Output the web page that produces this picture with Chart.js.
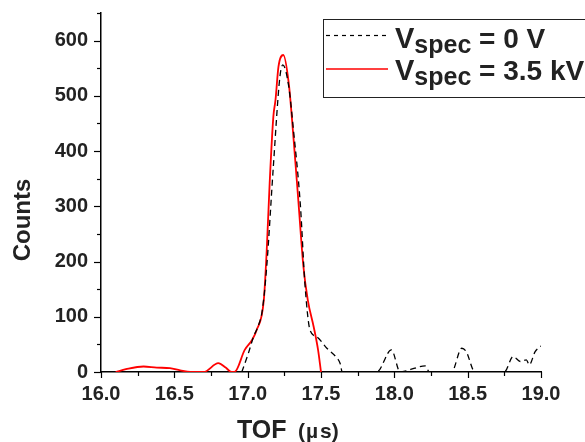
<!DOCTYPE html>
<html>
<head>
<meta charset="utf-8">
<script src="https://cdn.jsdelivr.net/npm/chart.js@4.4.1/dist/chart.umd.min.js"></script>
<style>
  body { margin: 0; background: #fff; }
  canvas { display: block; }
</style>
</head>
<body>
<canvas id="tof-chart" width="585" height="442"></canvas>
<script>
// TOF spectra
const tof0V = [16.96, 17.005, 17.04, 17.07, 17.10, 17.13, 17.175, 17.22, 17.24, 17.28, 17.31, 17.36, 17.39, 17.425, 17.47, 17.54, 17.60, 17.63, 17.645,
               17.88, 17.98, 18.04, 18.08, 18.14, 18.21, 18.24, 18.39, 18.46, 18.49, 18.55, 18.75, 18.81, 18.86, 18.90, 18.92, 18.96, 19.0];
const counts0V = [0, 34, 64, 82, 112, 191, 372, 535, 556, 517, 444, 300, 161, 76, 64, 43, 28, 16, 0,
                  0, 40, 0, 2, 7, 11, 0, 0, 43, 37, 0, 0, 28, 19, 22, 13, 37, 47];

const tof35kV = [16.10, 16.17, 16.29, 16.38, 16.47, 16.54, 16.61, 16.70, 16.80, 16.85, 16.89, 16.91, 16.98, 17.03, 17.06, 17.11, 17.13, 17.15, 17.175,
                 17.19, 17.21, 17.243, 17.28, 17.31, 17.345, 17.38, 17.41, 17.45, 17.48, 17.50];
const counts35kV = [0, 5, 10, 8, 7, 3, 0, 0, 16, 8, 0, 0, 40, 58, 75, 130, 221, 342, 462,
                    493, 553, 574, 523, 432, 312, 191, 130, 82, 40, 0];

const xTicks = [16.0, 16.5, 17.0, 17.5, 18.0, 18.5, 19.0];
const yTicks = [0, 100, 200, 300, 400, 500, 600];

const FONT = "'Liberation Sans', Arial, sans-serif";
const TEXT = "#222";

function toPoints(xs, ys) {
    return xs.map((x, i) => ({ x: x, y: ys[i] }));
}

// minor/major tick marks, axis titles and the legend box
const decorations = {
    id: "decorations",
    afterDraw(chart) {
        const c = chart.ctx;
        const xs = chart.scales.x;
        const ys = chart.scales.y;
        const area = chart.chartArea;

        c.save();
        c.strokeStyle = "#000";
        c.lineWidth = 1.2;
        for (let v = 0; v <= 650; v += 50) {
            const y = Math.round(ys.getPixelForValue(v)) + 0.5;
            const len = v % 100 === 0 ? 7 : 4;
            c.beginPath();
            c.moveTo(area.left - len, y);
            c.lineTo(area.left, y);
            c.stroke();
        }
        for (let v = 16; v <= 19.001; v += 0.25) {
            const x = Math.round(xs.getPixelForValue(v)) + 0.5;
            const len = Math.abs(v * 2 - Math.round(v * 2)) < 0.01 ? 6 : 4;
            c.beginPath();
            c.moveTo(x, area.bottom);
            c.lineTo(x, area.bottom + len);
            c.stroke();
        }

        // axis titles
        c.fillStyle = TEXT;
        c.textBaseline = "alphabetic";
        c.textAlign = "left";
        c.font = "bold 25px " + FONT;
        c.fillText("TOF", 237, 438);
        c.font = "bold 21px " + FONT;
        c.fillText("(", 298, 438);
        c.fillText("\u00b5", 306, 438);
        c.fillText("s)", 320, 438);

        c.save();
        c.translate(23, 220);
        c.rotate(-Math.PI / 2);
        c.textAlign = "center";
        c.textBaseline = "middle";
        c.font = "bold 24px " + FONT;
        c.fillText("Counts", 0, 0);
        c.restore();

        // legend
        c.fillStyle = "#fff";
        c.fillRect(323, 19, 270, 78);
        c.strokeStyle = "#222";
        c.lineWidth = 1;
        c.strokeRect(323.5, 19.5, 270, 78);

        c.strokeStyle = "#000";
        c.lineWidth = 1.2;
        c.setLineDash([4, 4]);
        c.beginPath();
        c.moveTo(326, 35.5);
        c.lineTo(388, 35.5);
        c.stroke();
        c.setLineDash([]);
        c.strokeStyle = "#ff0000";
        c.lineWidth = 1.6;
        c.beginPath();
        c.moveTo(326, 69);
        c.lineTo(388, 69);
        c.stroke();

        const labels = [" = 0 V", " = 3.5 kV"];
        const baselines = [48, 80];
        c.fillStyle = TEXT;
        labels.forEach((txt, i) => {
            let x = 395;
            c.font = "bold 29px " + FONT;
            c.fillText("V", x, baselines[i]);
            x += c.measureText("V").width;
            c.font = "bold 25px " + FONT;
            c.fillText("spec", x, baselines[i] + 5);
            x += c.measureText("spec").width;
            c.font = "bold 28px " + FONT;
            c.fillText(txt, x, baselines[i]);
        });
        c.restore();
    }
};

new Chart(document.getElementById("tof-chart"), {
    type: "line",
    data: {
        datasets: [
            {
                label: "Vspec = 0 V",
                data: toPoints(tof0V, counts0V),
                borderColor: "#000",
                borderWidth: 1.3,
                borderDash: [6, 4],
                pointRadius: 0,
                cubicInterpolationMode: "monotone",
                fill: false
            },
            {
                label: "Vspec = 3.5 kV",
                data: toPoints(tof35kV, counts35kV),
                borderColor: "#ff0000",
                borderWidth: 1.8,
                pointRadius: 0,
                cubicInterpolationMode: "monotone",
                fill: false
            }
        ]
    },
    options: {
        responsive: false,
        animation: false,
        devicePixelRatio: 1,
        layout: { padding: { top: 13, right: 44, left: 0, bottom: 0 } },
        plugins: {
            legend: { display: false },
            tooltip: { enabled: false }
        },
        scales: {
            x: {
                type: "linear",
                min: 16,
                max: 19,
                afterBuildTicks: (s) => { s.ticks = xTicks.map(v => ({ value: v })); },
                afterFit: (s) => { s.height = 70; s.paddingLeft = 0; s.paddingRight = 0; },
                ticks: {
                    padding: 10,
                    color: TEXT,
                    font: { family: FONT, weight: "bold", size: 20 },
                    callback: (v) => Number(v).toFixed(1)
                },
                grid: { display: false, drawTicks: false },
                border: { display: true, color: "#000", width: 1.5 }
            },
            y: {
                type: "linear",
                min: 0,
                max: 650,
                afterBuildTicks: (s) => { s.ticks = yTicks.map(v => ({ value: v })); },
                afterFit: (s) => { s.width = 101; s.paddingTop = 0; s.paddingBottom = 0; },
                ticks: {
                    padding: 13,
                    color: TEXT,
                    font: { family: FONT, weight: "bold", size: 20 }
                },
                grid: { display: false, drawTicks: false },
                border: { display: true, color: "#000", width: 1.5 }
            }
        }
    },
    plugins: [decorations]
});
</script>
</body>
</html>
